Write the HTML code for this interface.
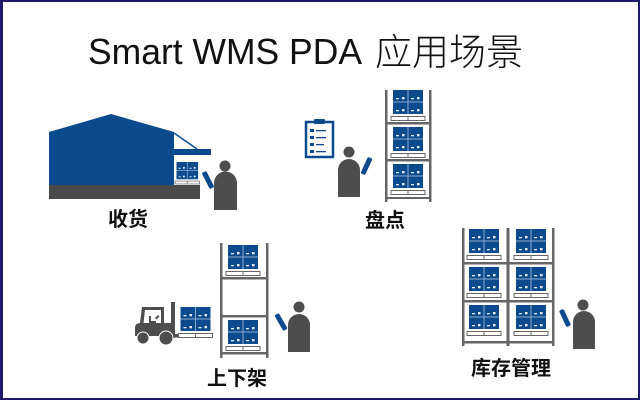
<!DOCTYPE html>
<html><head><meta charset="utf-8"><style>
html,body{margin:0;padding:0;background:#fff;}
svg{display:block;}
</style></head><body>
<svg width="640" height="400" viewBox="0 0 640 400" xmlns="http://www.w3.org/2000/svg">
<defs>
<g id="bx">
  <rect x="0" y="0" width="30" height="24" fill="#0b4a8c"/>
  <line x1="15" y1="0" x2="15" y2="24" stroke="#8eaad0" stroke-width="1"/>
  <line x1="0" y1="12" x2="30" y2="12" stroke="#8eaad0" stroke-width="1"/>
  <g fill="#e6eef8">
    <rect x="3" y="8" width="3" height="1.3"/><rect x="9" y="7" width="2.5" height="2.3"/>
    <rect x="18" y="8" width="3" height="1.3"/><rect x="24" y="7" width="2.5" height="2.3"/>
    <rect x="3" y="20" width="3" height="1.3"/><rect x="9" y="19" width="2.5" height="2.3"/>
    <rect x="18" y="20" width="3" height="1.3"/><rect x="24" y="19" width="2.5" height="2.3"/>
  </g>
  <rect x="-2" y="26.5" width="34" height="4" fill="#fff" stroke="#666" stroke-width="1"/>
  <line x1="15" y1="26.5" x2="15" y2="30.5" stroke="#666" stroke-width="1"/>
</g>
</defs>

<!-- border -->
<rect x="0" y="0" width="640" height="2" fill="#201a6b"/>
<rect x="0" y="398" width="640" height="2" fill="#201a6b"/>
<rect x="0" y="0" width="3" height="400" fill="#201a6b"/>
<rect x="638" y="0" width="2" height="400" fill="#201a6b"/>

<!-- title -->
<text x="88" y="64" font-family="'Liberation Sans','Noto Sans CJK SC',sans-serif" font-size="36" font-weight="300" fill="#111" textLength="274" lengthAdjust="spacingAndGlyphs">Smart WMS PDA</text>
<text x="375" y="65" font-family="'Liberation Sans','Noto Sans CJK SC',sans-serif" font-size="37" font-weight="300" fill="#111" textLength="148" lengthAdjust="spacingAndGlyphs">应用场景</text>

<!-- ===== 收货 ===== -->
<polygon points="49,132 111,114 174,132 174,185 49,185" fill="#0b4a8c"/>
<rect x="174" y="149" width="37" height="6" fill="#0b4a8c"/>
<line x1="174" y1="133" x2="197" y2="149" stroke="#0b4a8c" stroke-width="1.5"/>
<g transform="translate(176.5,162) scale(0.72)"><use href="#bx"/></g>
<rect x="49" y="185" width="151" height="14" fill="#4a4a4a"/>
<circle cx="225" cy="166" r="5.5" fill="#4d4d4d"/>
<path d="M214,210 V183 A11.5,11.5 0 0 1 237,183 V210 Z" fill="#4d4d4d"/>
<rect x="205.5" y="171" width="5" height="18" rx="1.5" fill="#0b4a8c" transform="rotate(-27 208 180)"/>
<text x="128" y="226" text-anchor="middle" font-family="'Liberation Sans','Noto Sans CJK SC',sans-serif" font-size="20" font-weight="bold" fill="#111">收货</text>

<!-- ===== 盘点 ===== -->
<!-- clipboard -->
<rect x="306" y="122" width="27" height="35" fill="#fff" stroke="#0b4a8c" stroke-width="2.5"/>
<rect x="314" y="119" width="11" height="5" rx="1" fill="#0b4a8c"/>
<g fill="#0b4a8c">
  <rect x="310" y="129" width="4" height="3"/><rect x="316" y="130" width="10" height="1.3"/>
  <rect x="310" y="136" width="4" height="3"/><rect x="316" y="137" width="10" height="1.3"/>
  <rect x="310" y="143" width="4" height="3"/><rect x="316" y="144" width="8" height="1.3"/>
  <rect x="310" y="150" width="4" height="3"/><rect x="316" y="151" width="10" height="1.3"/>
</g>
<circle cx="349" cy="152" r="5.5" fill="#4d4d4d"/>
<path d="M338,197 V170 A11,11 0 0 1 360,170 V197 Z" fill="#4d4d4d"/>
<rect x="364" y="157" width="5" height="18" rx="1.5" fill="#0b4a8c" transform="rotate(25 366.5 166)"/>
<!-- shelf -->
<rect x="385" y="90" width="2.5" height="112" fill="#666"/>
<rect x="429" y="90" width="2.5" height="112" fill="#666"/>
<rect x="385" y="122" width="46.5" height="2.5" fill="#666"/>
<rect x="385" y="159" width="46.5" height="2.5" fill="#666"/>
<rect x="385" y="197" width="46.5" height="2" fill="#666"/>
<use href="#bx" x="393" y="90"/>
<use href="#bx" x="393" y="127"/>
<use href="#bx" x="393" y="164"/>
<text x="385" y="227" text-anchor="middle" font-family="'Liberation Sans','Noto Sans CJK SC',sans-serif" font-size="20" font-weight="bold" fill="#111">盘点</text>

<!-- ===== 上下架 ===== -->
<!-- forklift -->
<g fill="#4d4d4d">
  <path d="M135,336 V328 Q135,323 140,323 H172 V336 Z"/>
  <path d="M140,323 L142,307 H164 V323 H161 V310 H145 L143.5,323 Z"/>
  <rect x="149" y="316" width="2" height="7"/>
  <rect x="149" y="321" width="7" height="2"/>
  <path d="M155,318 l3,-3 l1.5,1.5 l-3,3 Z"/>
  <circle cx="143" cy="338" r="6"/>
  <circle cx="166" cy="338" r="7"/>
  <rect x="171" y="302" width="4" height="36"/>
  <rect x="175" y="334" width="20" height="3.5"/>
</g>
<circle cx="143" cy="338" r="6" fill="none" stroke="#fff" stroke-width="1"/>
<circle cx="166" cy="338" r="7" fill="none" stroke="#fff" stroke-width="1"/>
<use href="#bx" x="180.5" y="307"/>
<!-- shelf -->
<rect x="220" y="243" width="2.5" height="115" fill="#666"/>
<rect x="266" y="243" width="2.5" height="115" fill="#666"/>
<rect x="220" y="277" width="48.5" height="2.5" fill="#666"/>
<rect x="220" y="315" width="48.5" height="2.5" fill="#666"/>
<rect x="220" y="352" width="48.5" height="2.5" fill="#666"/>
<use href="#bx" x="228" y="245"/>
<use href="#bx" x="228" y="320"/>
<circle cx="299" cy="307" r="5.5" fill="#4d4d4d"/>
<path d="M288,352 V325 A11,11 0 0 1 310,325 V352 Z" fill="#4d4d4d"/>
<rect x="278.5" y="313" width="5" height="18" rx="1.5" fill="#0b4a8c" transform="rotate(-30 281 322)"/>
<text x="237" y="385" text-anchor="middle" font-family="'Liberation Sans','Noto Sans CJK SC',sans-serif" font-size="20" font-weight="bold" fill="#111">上下架</text>

<!-- ===== 库存管理 ===== -->
<rect x="462" y="228" width="2.5" height="118" fill="#666"/>
<rect x="506.5" y="228" width="3" height="118" fill="#666"/>
<rect x="552" y="228" width="2.5" height="118" fill="#666"/>
<rect x="462" y="262" width="92.5" height="2.5" fill="#666"/>
<rect x="462" y="300" width="92.5" height="2.5" fill="#666"/>
<rect x="462" y="341" width="92.5" height="2.5" fill="#666"/>
<use href="#bx" x="469" y="229"/>
<use href="#bx" x="516" y="229"/>
<use href="#bx" x="469" y="267"/>
<use href="#bx" x="516" y="267"/>
<use href="#bx" x="469" y="305"/>
<use href="#bx" x="516" y="305"/>
<circle cx="583" cy="305" r="5.5" fill="#4d4d4d"/>
<path d="M573,349 V322 A11,11 0 0 1 595,322 V349 Z" fill="#4d4d4d"/>
<rect x="562.5" y="309" width="5" height="18" rx="1.5" fill="#0b4a8c" transform="rotate(-25 565 318)"/>
<text x="511" y="375" text-anchor="middle" font-family="'Liberation Sans','Noto Sans CJK SC',sans-serif" font-size="20" font-weight="bold" fill="#111">库存管理</text>
</svg>
</body></html>
